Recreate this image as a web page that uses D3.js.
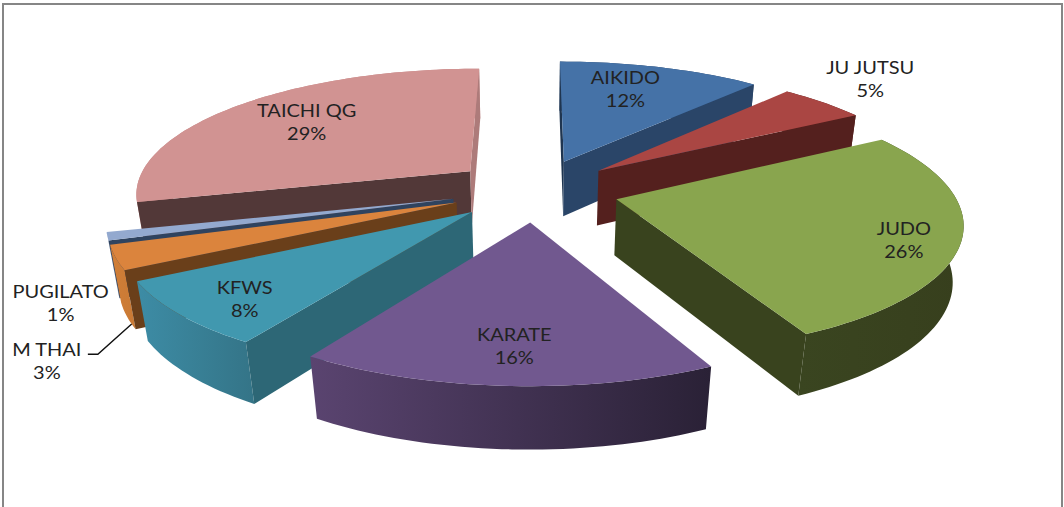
<!DOCTYPE html>
<html><head><meta charset="utf-8">
<script src="https://cdn.jsdelivr.net/npm/d3@7/dist/d3.min.js"></script>
<style>html,body{margin:0;padding:0;background:#fff}svg{display:block}</style>
</head><body><svg id="c" width="1064" height="507"></svg>
<script>
// ---- data ----
const categories = ["AIKIDO","JU JUTSU","JUDO","KARATE","KFWS","M THAI","PUGILATO","TAICHI QG"];
const shares     = [11.6,5,26.15,16.25,8,3,1,29];
// ---- style ----
const topColors  = ["#4572a7","#aa4643","#89a54e","#71588f","#4198af","#db843d","#93a9cf","#d19392"];
const sideColors = ["#2a4568","#54201e","#39431e","#54426c","#2d6776","#6a3f1a","#2f435f","#523838"];
const rimFrom    = ["#2a4568","#54201e","#3a4520","#5a4470","#3d8ca5","#d17e37","#7a92b8","#c88d8c"];
const rimTo      = ["#2a4568","#54201e","#373f1d","#2a2136","#347487","#c97a35","#7a92b8","#c88d8c"];
const endWall    = ["#1f3550","#3f1816","#2c3417","#3f3150","#2d6776","#4d2e12","#2f435f","#ad7b7a"];
const paintOrder = ["AIKIDO","TAICHI QG","JU JUTSU","PUGILATO","M THAI","JUDO","KFWS","KARATE"];
const labelNudge = [[-9,-4],[110,-43],[49,14],[0,16],[-30,18],[-176,121],[-154,78],[2,-2]];
// ---- projection ----
const cx=535, cy=190, S=336, T=125, k=0.163, m=0.025, H=57, explode=0.25;
function proj(X,Y,z){
  const w=1+k*Y+m*z;
  return [cx+S*X/w, cy+(-T*Y+H*z)/w];
}
const svg=d3.select("#c");
const defs=svg.append("defs");
svg.append("path").attr("fill","none").attr("stroke","#868686").attr("stroke-width",2)
  .attr("d","M3,507V4H1062V507");

const pie=d3.pie().sort(null).value(d=>d).startAngle(0).endAngle(2*Math.PI);
const arcs=pie(shares);
const line=d3.line();
const slices=arcs.map((a,i)=>{
  const mid=(a.startAngle+a.endAngle)/2;
  const ax=explode*Math.sin(mid), ay=explode*Math.cos(mid);
  const n=Math.max(4,Math.ceil((a.endAngle-a.startAngle)*40));
  const angles=d3.range(n+1).map(j=>a.startAngle+(a.endAngle-a.startAngle)*j/n);
  const rim=angles.map(t=>[ax+Math.sin(t),ay+Math.cos(t)]);
  return {i,name:categories[i],mid,ax,ay,rim,start:a.startAngle,end:a.endAngle};
});
const P=(pts,z)=>pts.map(p=>proj(p[0],p[1],z));

slices.forEach(s=>{
  const g=defs.append("linearGradient").attr("id","rim"+s.i);
  g.append("stop").attr("offset","0").attr("stop-color",rimFrom[s.i]);
  g.append("stop").attr("offset","1").attr("stop-color",rimTo[s.i]);
});

const order=paintOrder.map(n=>slices[categories.indexOf(n)]);
const layer=svg.selectAll("g.slice").data(order).join("g").attr("class","slice");
layer.each(function(s){
  const g=d3.select(this), apex=[s.ax,s.ay];
  const first=s.rim[0], last=s.rim[s.rim.length-1];
  const wall=(a,b)=>line([...P([a,b],0),...P([b,a],1)])+"Z";
  const topPts=P([apex,...s.rim],0);
  const c=[d3.mean(topPts,p=>p[0]),d3.mean(topPts,p=>p[1])];
  // a radial wall shows only when the top face lies above its top edge on screen
  const shows=(a,b)=>{
    const [p,q]=P([a,b],0);
    const yAt=p[1]+(c[0]-p[0])*(q[1]-p[1])/(q[0]-p[0]);
    return c[1]<yAt;
  };
  const leftSide=Math.sin(s.mid)<0;
  g.append("path").attr("d",line([...P(s.rim,0),...P(s.rim.slice().reverse(),1)])+"Z")
    .attr("fill",`url(#rim${s.i})`);
  if(shows(apex,first)) g.append("path").attr("d",wall(apex,first)).attr("fill",leftSide?sideColors[s.i]:endWall[s.i]);
  if(shows(apex,last))  g.append("path").attr("d",wall(apex,last)).attr("fill",leftSide?endWall[s.i]:sideColors[s.i]);
  g.append("path").attr("d",line(topPts)+"Z").attr("fill",topColors[s.i]);
});

// leader line for M THAI: touches the foot of its rim, just past the start of the slice
const mt=slices[categories.indexOf("M THAI")];
const mtA=mt.start+(mt.end-mt.start)*0.2;
const mtEnd=proj(mt.ax+Math.sin(mtA),mt.ay+Math.cos(mtA),1);

const labels=svg.selectAll("g.label").data(slices).join("g").attr("class","label")
  .attr("font-family","Lato, sans-serif").attr("font-size",18).attr("fill","#222").attr("text-anchor","middle")
  .attr("transform",s=>{
    const p=proj(s.ax+0.7*Math.sin(s.mid),s.ay+0.7*Math.cos(s.mid),0);
    return `translate(${p[0]+labelNudge[s.i][0]},${p[1]+labelNudge[s.i][1]}) scale(1.11,1)`;
  });
labels.append("text").attr("y",-5).text(s=>s.name);
labels.append("text").attr("y",18).text(s=>Math.round(shares[s.i])+"%");

const mtP=proj(mt.ax+0.7*Math.sin(mt.mid),mt.ay+0.7*Math.cos(mt.mid),0);
const mtL=[mtP[0]+labelNudge[5][0]+41,mtP[1]+labelNudge[5][1]-7];
svg.append("path").attr("fill","none").attr("stroke","#111").attr("stroke-width",1.4)
  .attr("d",line([mtL,[mtL[0]+10,mtL[1]],mtEnd]));
</script></body></html>
